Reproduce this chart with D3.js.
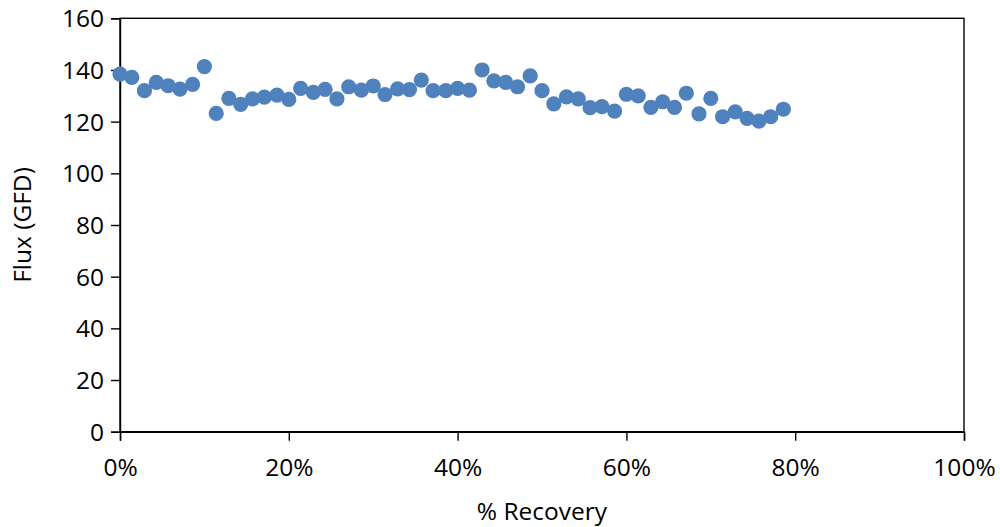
<!DOCTYPE html>
<html>
<head>
<meta charset="utf-8">
<script src="https://cdn.jsdelivr.net/npm/d3@7"></script>
<style>
  html, body { margin: 0; padding: 0; background: #fff; }
  svg text { font-family: "Open Sans", "Liberation Sans", sans-serif; fill: #000; }
</style>
</head>
<body>
<svg id="chart" width="1000" height="527"></svg>
<script>
// Recovery (%) of each flux reading
const recovery = [
  0.0, 1.4, 2.9, 4.3, 5.7, 7.1, 8.6, 10.0, 11.4, 12.9,
  14.3, 15.7, 17.1, 18.6, 20.0, 21.4, 22.9, 24.3, 25.7, 27.1,
  28.6, 30.0, 31.4, 32.9, 34.3, 35.7, 37.1, 38.6, 40.0, 41.4,
  42.9, 44.3, 45.7, 47.1, 48.6, 50.0, 51.4, 52.9, 54.3, 55.7,
  57.1, 58.6, 60.0, 61.4, 62.9, 64.3, 65.7, 67.1, 68.6, 70.0,
  71.4, 72.9, 74.3, 75.7, 77.1, 78.6
];
// Flux readings (GFD)
const flux = [
  138.4, 137.1, 132.0, 135.2, 133.9, 132.6, 134.4, 141.3, 123.2, 129.0,
  126.7, 128.8, 129.5, 130.3, 128.6, 132.9, 131.3, 132.5, 128.8, 133.5,
  132.2, 133.8, 130.5, 132.7, 132.4, 136.1, 132.0, 132.0, 132.9, 132.2,
  140.0, 135.8, 135.2, 133.5, 137.7, 132.0, 126.9, 129.6, 128.8, 125.4,
  125.8, 124.1, 130.6, 130.0, 125.5, 127.7, 125.5, 131.0, 123.0, 129.0,
  121.9, 123.8, 121.3, 120.2, 121.9, 124.8
];
const xTicks = [0, 20, 40, 60, 80, 100];
const yTicks = [0, 20, 40, 60, 80, 100, 120, 140, 160];

const svg = d3.select("#chart");
const m = { left: 120, right: 36, top: 18.3, bottom: 95.3 };
const W = 1000, H = 527;
const fs = 24.5;

const x = d3.scaleLinear().domain([0, 100]).range([m.left, W - m.right]);
const y = d3.scaleLinear().domain([0, 160]).range([H - m.bottom, m.top]);

// plot-area frame
svg.append("rect")
  .attr("x", x(0)).attr("y", y(160))
  .attr("width", x(100) - x(0)).attr("height", y(0) - y(160))
  .attr("fill", "none").attr("stroke", "#000").attr("stroke-width", 1.4);

// y axis
const yAxis = svg.append("g")
  .attr("transform", `translate(${x(0)},0)`)
  .call(d3.axisLeft(y).tickValues(yTicks).tickSize(9).tickPadding(7).tickFormat(d3.format("d")));
yAxis.select(".domain").attr("stroke-width", 1.4);
yAxis.selectAll(".tick line").attr("stroke-width", 1.4);
yAxis.selectAll("text").attr("font-size", fs).attr("dy", "0.35em");

// x axis
const xAxis = svg.append("g")
  .attr("transform", `translate(0,${y(0)})`)
  .call(d3.axisBottom(x).tickValues(xTicks).tickSize(9).tickPadding(18).tickFormat(d => d + "%"));
xAxis.select(".domain").attr("stroke-width", 1.4);
xAxis.selectAll(".tick line").attr("stroke-width", 1.4);
xAxis.selectAll("text").attr("font-size", fs);

// points
svg.append("g")
  .selectAll("circle")
  .data(recovery.map((r, i) => ({ r, f: flux[i] })))
  .join("circle")
  .attr("cx", d => x(d.r))
  .attr("cy", d => y(d.f))
  .attr("r", 7.6)
  .attr("fill", "#4F81BD");

// axis titles
svg.append("text")
  .attr("x", (x(0) + x(100)) / 2).attr("y", 513)
  .attr("text-anchor", "middle").attr("dominant-baseline", "middle")
  .attr("font-size", fs).text("% Recovery");

svg.append("text")
  .attr("transform", `translate(24,${(y(0) + y(160)) / 2}) rotate(-90)`)
  .attr("text-anchor", "middle").attr("dominant-baseline", "middle")
  .attr("font-size", fs).text("Flux (GFD)");
</script>
</body>
</html>
